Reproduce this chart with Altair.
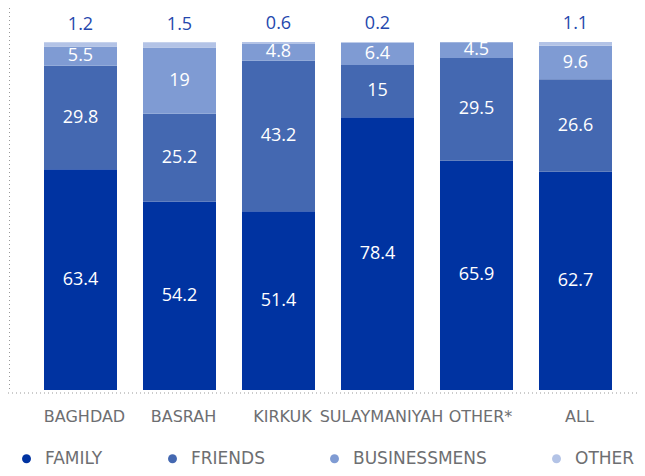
import altair as alt
import pandas as pd

categories = ["BAGHDAD", "BASRAH", "KIRKUK", "SULAYMANIYAH", "OTHER*", "ALL"]
series = ["FAMILY", "FRIENDS", "BUSINESSMENS", "OTHER"]
family = [63.4, 54.2, 51.4, 78.4, 65.9, 62.7]
friends = [29.8, 25.2, 43.2, 15, 29.5, 26.6]
businessmens = [5.5, 19, 4.8, 6.4, 4.5, 9.6]
other = [1.2, 1.5, 0.6, 0.2, 0, 1.1]
colors = ["#0033a1", "#4468b1", "#7f9bd3", "#b3c3e6"]

rows = []
for i, c in enumerate(categories):
    for k, (s, vals) in enumerate(zip(series, [family, friends, businessmens, other])):
        rows.append({"cat": c, "series": s, "value": vals[i], "order": k})
df = pd.DataFrame(rows)

xscale = alt.Scale(domain=categories, range=[34, 602], paddingInner=0.2626, paddingOuter=0)
yscale = alt.Scale(domain=[0, 109.77], nice=False, zero=True)

base = alt.Chart(df).transform_stack(
    stack="value", as_=["v0", "v1"], groupby=["cat"], sort=[alt.SortField("order")]
).transform_calculate(mid="(datum.v0 + datum.v1) / 2")

bars = base.transform_filter("datum.value > 0").mark_bar().encode(
    x=alt.X("cat:N", scale=xscale, sort=categories, title=None,
            axis=alt.Axis(domain=False, ticks=False, grid=False, labelAngle=0,
                          labelFont="DejaVu Sans", labelFontSize=16, labelColor="#6d6e71",
                          labelPadding=18, labelOffset=4)),
    y=alt.Y("v0:Q", scale=yscale, axis=None),
    y2="v1:Q",
    color=alt.Color("series:N", scale=alt.Scale(domain=series, range=colors),
                    legend=alt.Legend(title=None, orient="none", legendX=8, legendY=442,
                                      direction="horizontal", symbolType="circle",
                                      symbolSize=80, symbolStrokeWidth=0,
                                      labelFont="DejaVu Sans", labelFontSize=17,
                                      labelColor="#6d6e71", labelOffset=10,
                                      columnPadding=61, padding=0)),
)

inner = base.transform_filter("datum.series != 'OTHER' && datum.value > 0").mark_text(
    color="white", font="Open Sans", fontSize=18, baseline="middle"
).encode(
    x=alt.X("cat:N", scale=xscale, sort=categories),
    y=alt.Y("mid:Q", scale=yscale),
    text=alt.Text("value:Q"),
)

top = base.transform_filter("datum.series == 'OTHER' && datum.value > 0").mark_text(
    color="#2447ad", font="Open Sans", fontSize=18, baseline="middle", dy=-17.5
).encode(
    x=alt.X("cat:N", scale=xscale, sort=categories),
    y=alt.Y("v1:Q", scale=yscale),
    text=alt.Text("value:Q"),
)

one = pd.DataFrame({"a": [0]})
hline = alt.Chart(one).mark_rule(color="#999999", strokeDash=[1, 3], strokeWidth=1).encode(
    x=alt.value(-2), x2=alt.value(627), y=alt.value(385)
)
vline = alt.Chart(one).mark_rule(color="#999999", strokeDash=[1, 3], strokeWidth=1).encode(
    x=alt.value(-0.5), y=alt.value(0), y2=alt.value(382)
)

chart = alt.layer(bars, inner, top, hline, vline).properties(
    width=627, height=382,
    autosize=alt.AutoSizeParams(type="none"),
    padding={"left": 2, "top": 0, "right": 0, "bottom": 78},
).configure_view(stroke=None)

chart.save("out.html", embed_options={"renderer": "svg", "actions": False})
